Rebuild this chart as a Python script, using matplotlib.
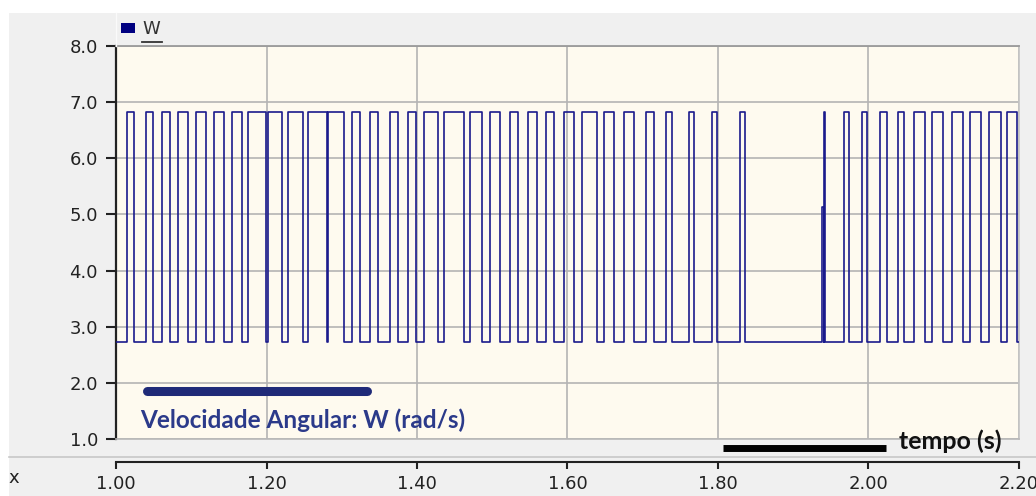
import matplotlib
matplotlib.use("Agg")
import matplotlib.pyplot as plt
from matplotlib.patches import Rectangle
from matplotlib.lines import Line2D

# Angular velocity W (rad/s): two-level square wave
W_HIGH = 6.83
W_LOW = 2.72
rise_times = [1.0150, 1.0395, 1.0607, 1.0820, 1.1059, 1.1298, 1.1538, 1.1758,
              1.2016, 1.2282, 1.2555, 1.2822, 1.3140, 1.3379, 1.3645, 1.3884,
              1.4093, 1.4363, 1.4700, 1.4970, 1.5236, 1.5479, 1.5718, 1.5957,
              1.6197, 1.6489, 1.6755, 1.7047, 1.7313, 1.7611, 1.7924, 1.8296,
              1.9412, 1.9678, 1.9917, 2.0157, 2.0396, 2.0608, 2.0848, 2.1113,
              2.1352, 2.1597, 2.1837]
fall_times = [1.0239, 1.0496, 1.0718, 1.0961, 1.1200, 1.1435, 1.1678, 1.1989,
              1.2210, 1.2485, 1.2800, 1.3034, 1.3246, 1.3485, 1.3751, 1.3987,
              1.4283, 1.4628, 1.4867, 1.5107, 1.5346, 1.5591, 1.5824, 1.6090,
              1.6388, 1.6618, 1.6888, 1.7152, 1.7392, 1.7685, 1.7983, 1.8355,
              1.9418, 1.9736, 1.9975, 2.0242, 2.0475, 2.0754, 2.0994, 2.1259,
              2.1498, 2.1764, 2.1970]
# short partial excursion before the isolated spike
partial_start = [1.9385]
partial_peak = [5.14]
partial_end = [1.9405]

t_start, t_end = 1.0, 2.2
x_ticks = [1.00, 1.20, 1.40, 1.60, 1.80, 2.00, 2.20]
x_labels = ["1.00", "1.20", "1.40", "1.60", "1.80", "2.00", "2.20"]
y_ticks = [1.0, 2.0, 3.0, 4.0, 5.0, 6.0, 7.0, 8.0]
y_labels = ["1.0", "2.0", "3.0", "4.0", "5.0", "6.0", "7.0", "8.0"]

# build the step sequence from the level changes
events = [(t, W_HIGH) for t in rise_times] + [(t, W_LOW) for t in fall_times]
events += [(t, v) for t, v in zip(partial_start, partial_peak)]
events += [(t, W_LOW) for t in partial_end]
events.sort()
t_vals = [t_start] + [e[0] for e in events] + [t_end]
w_vals = [W_LOW] + [e[1] for e in events] + [events[-1][1]]

FW, FH = 1036, 496
fig = plt.figure(figsize=(FW / 100, FH / 100), dpi=100, facecolor="white")

def fx(px):
    return px / FW

def fy(py):
    return 1 - py / FH

# grey panel behind everything
fig.patches.append(Rectangle((fx(9), 0), 1 - fx(9), fy(13), transform=fig.transFigure,
                             facecolor="#f0f0f0", edgecolor="none", zorder=-10))
# separator above the time axis
fig.add_artist(Line2D([fx(9), 1], [fy(457), fy(457)], transform=fig.transFigure,
                      color="#c8c8c8", lw=1.2))
# thin separator at the legend strip
fig.add_artist(Line2D([fx(116), fx(116)], [fy(13), fy(46)], transform=fig.transFigure,
                      color="#fafafa", lw=1.0))

L, R, T, B = 116, 1019, 46, 439
ax = fig.add_axes([fx(L), fy(B), fx(R - L), (B - T) / FH])
ax.set_facecolor("#fefaef")
ax.set_xlim(t_start, t_end)
ax.set_ylim(1.0, 8.0)
ax.set_xticks(x_ticks)
ax.set_yticks(y_ticks)
ax.set_yticklabels(y_labels, fontsize=13, color="#222222", family="DejaVu Sans")
ax.tick_params(axis="x", bottom=False, labelbottom=False)
ax.tick_params(axis="y", length=7, width=1.5, color="#222222", pad=6)
ax.grid(True, color="#b4b4b4", lw=1.2)
ax.set_axisbelow(True)
ax.spines["left"].set_color("#222222")
ax.spines["left"].set_linewidth(1.6)
ax.spines["top"].set_color("#9a9a9a")
ax.spines["top"].set_linewidth(1.3)
ax.spines["right"].set_color("#c4c4c4")
ax.spines["right"].set_linewidth(1.2)
ax.spines["bottom"].set_color("#b8b8b8")
ax.spines["bottom"].set_linewidth(1.2)

ax.plot(t_vals, w_vals, drawstyle="steps-post", color="#1a1a8c", lw=1.2, zorder=3)

# series caption with its bar
ax.plot([1.041, 1.333], [1.86, 1.86], color="#1f2a78", lw=6.5,
        solid_capstyle="round", zorder=4)
ax.text(1.032, 1.33, "Velocidade Angular: W (rad/s)", fontsize=17.5, fontweight="bold",
        family="Lato", color="#2b3a8a", va="center", ha="left", zorder=5)

# time axis caption with its bar
ax.plot([1.807, 2.023], [0.845, 0.845], color="black", lw=5.0,
        solid_capstyle="butt", clip_on=False, zorder=4)
ax.text(2.041, 0.96, "tempo (s)", fontsize=18, fontweight="bold", family="Lato",
        color="#111111", va="center", ha="left", clip_on=False, zorder=5)

# separate time axis below the plot
ax2 = fig.add_axes([fx(L), fy(461.5), fx(R - L), 0.0001])
ax2.set_xlim(t_start, t_end)
ax2.set_xticks(x_ticks)
ax2.set_xticklabels(x_labels, fontsize=13, color="#222222", family="DejaVu Sans")
ax2.set_yticks([])
ax2.patch.set_visible(False)
for s in ("left", "right", "top"):
    ax2.spines[s].set_visible(False)
ax2.spines["bottom"].set_color("#222222")
ax2.spines["bottom"].set_linewidth(1.5)
ax2.tick_params(axis="x", length=5, width=1.5, color="#222222", pad=5)
fig.text(fx(8), fy(478), "x", fontsize=13, color="#222222", va="center", ha="left")

# legend entry
fig.patches.append(Rectangle((fx(121), fy(33)), fx(14), 10 / FH, transform=fig.transFigure,
                             facecolor="#000080", edgecolor="none"))
fig.text(fx(142), fy(29), "W", fontsize=13, color="#333333", va="center", ha="left")
fig.add_artist(Line2D([fx(142), fx(162)], [fy(41.5), fy(41.5)], transform=fig.transFigure,
                      color="#333333", lw=1.3))

fig.savefig("out.png", dpi=100, facecolor=fig.get_facecolor())
